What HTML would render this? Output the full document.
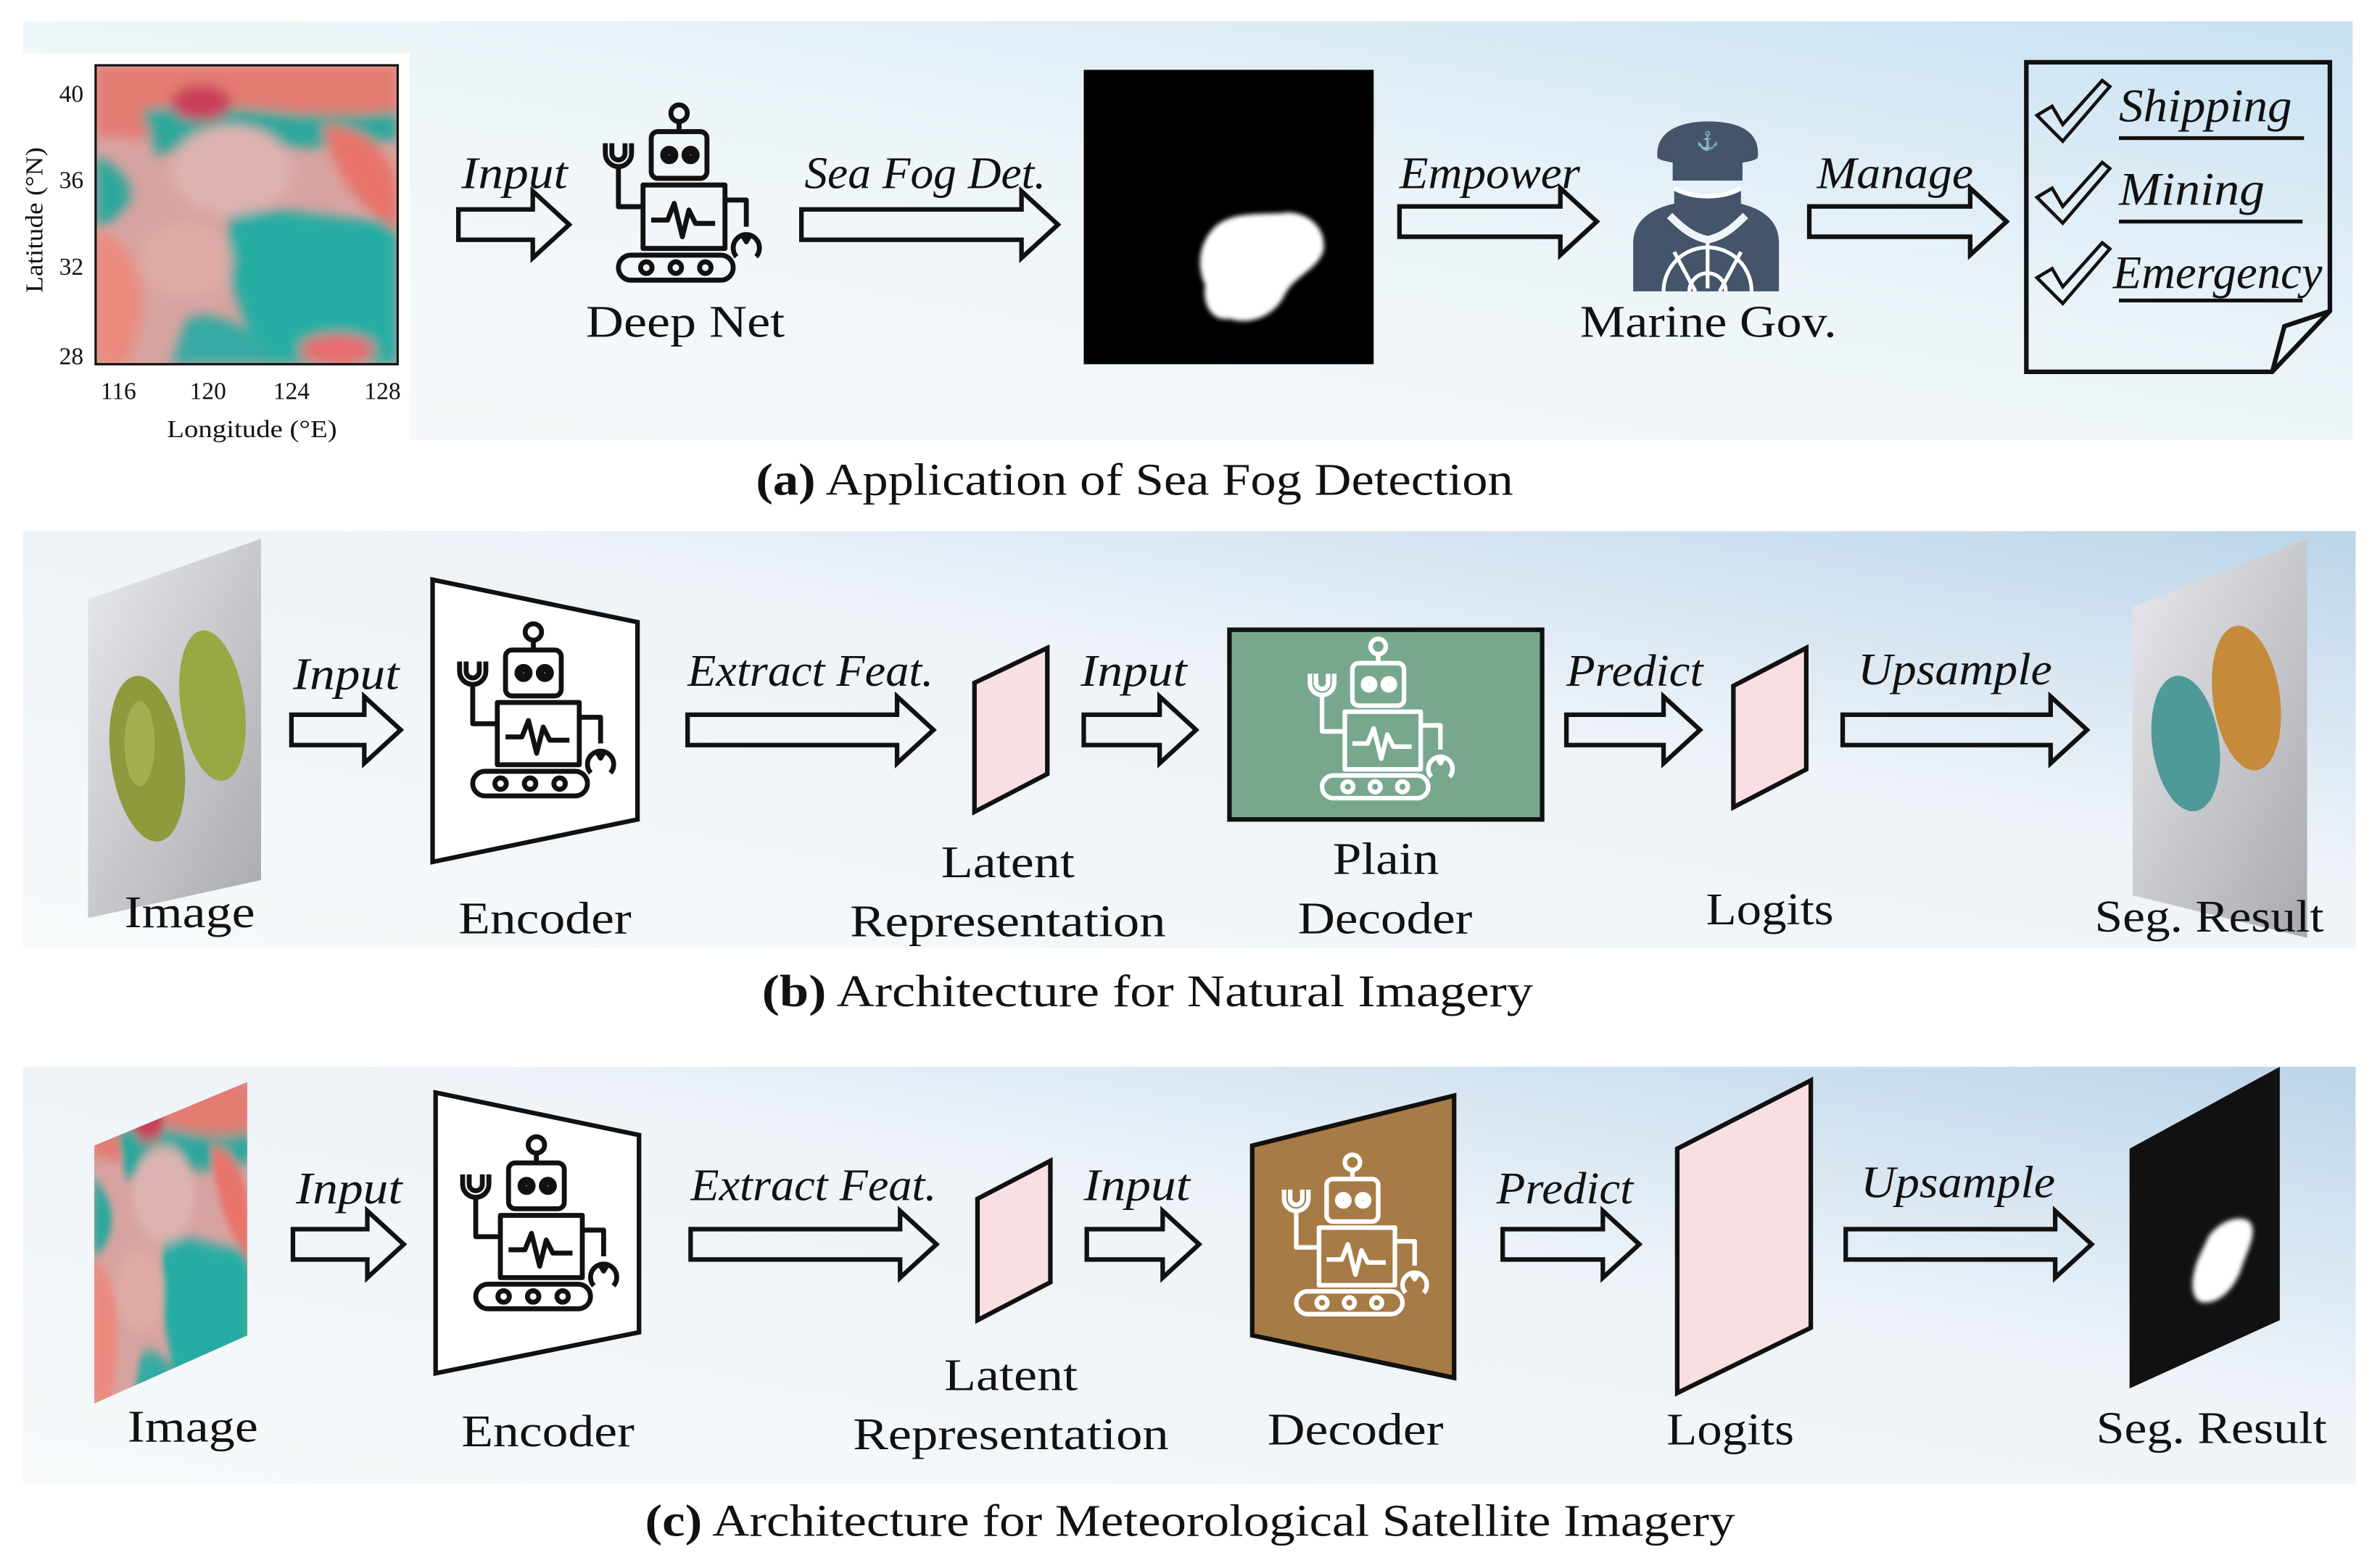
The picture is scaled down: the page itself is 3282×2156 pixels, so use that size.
<!DOCTYPE html>
<html><head><meta charset="utf-8"><style>
html,body{margin:0;padding:0;background:#fff;}
svg{display:block;}
text{font-family:"Liberation Serif",serif;fill:#111;}
.it{font-style:italic;}
</style></head><body>
<svg width="3282" height="2156" viewBox="0 0 1568 1030" xmlns="http://www.w3.org/2000/svg">
<defs>
<linearGradient id="bg" x1="0" y1="1" x2="1" y2="0">
<stop offset="0" stop-color="#f7fafb"/><stop offset="0.55" stop-color="#eef5f9"/><stop offset="1" stop-color="#c7e1f2"/>
</linearGradient>
<linearGradient id="bg2" x1="0" y1="1" x2="1" y2="0">
<stop offset="0" stop-color="#f7fafb"/><stop offset="0.6" stop-color="#edf3f8"/><stop offset="1" stop-color="#bcd5ea"/>
</linearGradient>
<linearGradient id="gray" x1="0" y1="0" x2="1" y2="1">
<stop offset="0" stop-color="#e8e9ec"/><stop offset="1" stop-color="#a9aab0"/>
</linearGradient>
<g id="robot" fill="none" stroke-width="3" stroke-linejoin="round">
<circle cx="55" cy="6" r="5"/><line x1="55" y1="11" x2="55" y2="17"/>
<rect x="38" y="17" width="34" height="28" rx="4"/>
<circle cx="49" cy="31" r="4"/><circle cx="62" cy="31" r="4"/>
<circle cx="49" cy="31" r="1.2"/><circle cx="62" cy="31" r="1.2"/>
<rect x="33" y="49" width="50" height="38"/>
<polyline points="38,70 48,70 52,60 57,80 61,64 65,72 77,72"/>
<polyline points="33,62 18,62 18,38"/>
<path d="M10,24 v6 a8,8 0 0 0 16,0 v-6 M14,24 v6 a4,4 0 0 0 8,0 v-6"/>
<polyline points="83,58 96,58 96,74"/>
<path d="M90,92 a8,8 0 1 1 12,0 M93,78 l3,5 l3,-5"/>
<rect x="18" y="91" width="70" height="15" rx="7.5"/>
<circle cx="35" cy="98.5" r="3.5"/><circle cx="53" cy="98.5" r="3.5"/><circle cx="71" cy="98.5" r="3.5"/>
</g>
<clipPath id="fogclip"><rect x="63" y="43" width="199" height="197"/></clipPath>
<filter id="blur4"><feGaussianBlur stdDeviation="4"/></filter>
<filter id="blur2"><feGaussianBlur stdDeviation="1.5"/></filter>
<g id="fog">
<rect x="0" y="0" width="200" height="200" fill="#d7a3a0"/>
<g filter="url(#blur4)">
<path d="M0,0 H200 V30 C150,50 100,10 60,40 C30,60 10,40 0,50Z" fill="#e47c72"/>
<path d="M30,30 C80,20 140,40 200,30 V50 C150,60 90,50 40,60Z" fill="#2ea79c"/>
<ellipse cx="70" cy="25" rx="20" ry="12" fill="#c9405a"/>
<path d="M0,60 C20,70 40,90 0,110Z" fill="#2ea79c"/>
<path d="M0,110 C30,120 40,160 20,200 H0Z" fill="#ec8a7e"/>
<path d="M90,100 C130,90 170,110 200,100 V200 H110 C100,170 80,140 90,100Z" fill="#27ada3"/>
<path d="M150,40 C180,40 200,60 200,90 V110 C180,100 160,80 150,40Z" fill="#e8736a"/>
<path d="M60,170 C80,160 110,180 120,200 H50Z" fill="#34aaa2"/>
<ellipse cx="160" cy="190" rx="25" ry="10" fill="#e86b6e"/>
<ellipse cx="90" cy="70" rx="40" ry="30" fill="#ddb2b0"/>
<ellipse cx="60" cy="130" rx="30" ry="25" fill="#e0aba6"/>
</g>
</g>
</defs>

<!-- Panel a -->
<rect x="15" y="14" width="1535" height="276" fill="url(#bg)"/>
<rect x="15" y="35" width="255" height="255" fill="#fff"/>
<g clip-path="url(#fogclip)"><use href="#fog" transform="translate(63,43) scale(0.995,0.985)"/></g>
<rect x="63" y="43" width="199" height="197" fill="none" stroke="#111" stroke-width="1.5"/>
<g font-size="16">
<text x="55" y="67" text-anchor="end">40</text>
<text x="55" y="124" text-anchor="end">36</text>
<text x="55" y="181" text-anchor="end">32</text>
<text x="55" y="240" text-anchor="end">28</text>
<text x="78" y="263" text-anchor="middle">116</text>
<text x="137" y="263" text-anchor="middle">120</text>
<text x="192" y="263" text-anchor="middle">124</text>
<text x="252" y="263" text-anchor="middle">128</text>
<text x="166" y="288" text-anchor="middle" textLength="112" lengthAdjust="spacingAndGlyphs">Longitude (°E)</text>
<text transform="translate(28,145) rotate(-90)" text-anchor="middle" textLength="96" lengthAdjust="spacingAndGlyphs">Latitude (°N)</text>
</g>
<g fill="none" stroke="#111" stroke-width="3" stroke-linejoin="miter">
<polygon points="302,138 351,138 351,126 375,148 351,170 351,158 302,158"/>
<polygon points="528,138 673,138 673,126 697,148 673,170 673,158 528,158"/>
<polygon points="922,136 1028,136 1028,124 1052,146 1028,168 1028,156 922,156"/>
<polygon points="1192,136 1298,136 1298,124 1322,146 1298,168 1298,156 1192,156"/>
</g>
<g font-size="30">
<text x="304" y="124" class="it" textLength="70" lengthAdjust="spacingAndGlyphs">Input</text>
<text x="530" y="124" class="it" textLength="159" lengthAdjust="spacingAndGlyphs">Sea Fog Det.</text>
<text x="922" y="124" class="it" textLength="119" lengthAdjust="spacingAndGlyphs">Empower</text>
<text x="1197" y="124" class="it" textLength="103" lengthAdjust="spacingAndGlyphs">Manage</text>
</g>
<use href="#robot" stroke="#111" transform="translate(388,68) scale(1.08,1.1)"/>
<text x="386" y="222" font-size="30" textLength="131" lengthAdjust="spacingAndGlyphs">Deep Net</text>
<rect x="714" y="46" width="191" height="194" fill="#000"/>
<path d="M800,150 C812,138 835,142 848,140 C862,140 874,150 872,165 C868,178 852,182 846,195 C838,210 822,214 810,210 C798,212 792,200 794,188 C788,175 790,160 800,150Z" fill="#fff" filter="url(#blur2)"/>
<!-- officer -->
<g fill="#44546a">
<path d="M1092,104 C1090,86 1108,80 1125,80 C1145,80 1160,86 1158,104 C1152,110 1098,110 1092,104Z"/>
<rect x="1102" y="104" width="46" height="15"/>
<path d="M1103,124 C1115,131 1135,131 1147,124 V140 C1147,158 1136,168 1125,168 C1114,168 1103,158 1103,140Z"/>
<path d="M1076,192 V160 C1076,140 1098,132 1125,132 C1152,132 1172,140 1172,160 V192Z" fill="#44546a"/>
</g>
<path d="M1103,124 C1115,131 1135,131 1147,124" stroke="#fff" stroke-width="3" fill="none"/>
<path d="M1100,142 C1108,150 1115,156 1125,158 C1135,156 1142,150 1150,142" stroke="#eef4f8" stroke-width="5" fill="none"/>
<g stroke="#fff" stroke-width="2.5" fill="none">
<path d="M1096,192 A29,29 0 0 1 1154,192"/>
<path d="M1113,192 A12,12 0 0 1 1137,192"/>
<line x1="1125" y1="160" x2="1125" y2="190"/>
<line x1="1103" y1="166" x2="1117" y2="192"/>
<line x1="1147" y1="166" x2="1133" y2="192"/>
</g>
<text x="1125" y="97" font-size="12" text-anchor="middle" style="fill:#fff">⚓</text>
<text x="1041" y="222" font-size="30" textLength="169" lengthAdjust="spacingAndGlyphs">Marine Gov.</text>
<!-- checklist -->
<path d="M1335,41 H1535 V205 L1497,245 H1335Z" fill="none" stroke="#111" stroke-width="3"/>
<path d="M1497,245 L1505,215 L1535,205" fill="none" stroke="#111" stroke-width="3"/>
<g fill="none" stroke="#111" stroke-width="2.2" stroke-linejoin="miter">
<path d="M1342,76 L1352,70 L1359,82 L1385,53 L1390,57 L1359,93Z"/>
<path d="M1342,130 L1352,124 L1359,136 L1385,107 L1390,111 L1359,147Z"/>
<path d="M1342,183 L1352,177 L1359,189 L1385,160 L1390,164 L1359,200Z"/>
</g>
<g stroke="#111" stroke-width="2.5">
<line x1="1396" y1="91" x2="1518" y2="91"/>
<line x1="1396" y1="146" x2="1517" y2="146"/>
<line x1="1396" y1="198" x2="1517" y2="198"/>
</g>
<g font-size="31">
<text x="1396" y="80" class="it" textLength="114" lengthAdjust="spacingAndGlyphs">Shipping</text>
<text x="1396" y="135" class="it" textLength="96" lengthAdjust="spacingAndGlyphs">Mining</text>
<text x="1392" y="190" class="it" textLength="138" lengthAdjust="spacingAndGlyphs">Emergency</text>
</g>
<text x="498" y="326" font-size="30" textLength="499" lengthAdjust="spacingAndGlyphs"><tspan font-weight="bold">(a)</tspan> Application of Sea Fog Detection</text>

<!-- Panel b -->
<rect x="15" y="350" width="1537" height="275" fill="url(#bg2)"/>
<polygon points="58,395 172,355 172,580 58,605" fill="url(#gray)"/>
<ellipse cx="97" cy="500" rx="24" ry="55" fill="#8e9a3c" transform="rotate(-8 97 500)"/>
<ellipse cx="140" cy="465" rx="21" ry="50" fill="#98a843" transform="rotate(-8 140 465)"/>
<ellipse cx="92" cy="490" rx="10" ry="28" fill="#b1bd5e" opacity="0.6"/>
<polygon points="1405,400 1520,355 1520,618 1405,590" fill="url(#gray)"/>
<ellipse cx="1440" cy="490" rx="22" ry="45" fill="#4f9a98" transform="rotate(-8 1440 490)"/>
<ellipse cx="1480" cy="460" rx="22" ry="48" fill="#c58a3a" transform="rotate(-8 1480 460)"/>
<g fill="none" stroke="#111" stroke-width="3">
<polygon points="192,471 240,471 240,459 264,481 240,503 240,491 192,491"/>
<polygon points="453,471 591,471 591,459 615,481 591,503 591,491 453,491"/>
<polygon points="714,471 764,471 764,459 788,481 764,503 764,491 714,491"/>
<polygon points="1032,471 1096,471 1096,459 1120,481 1096,503 1096,491 1032,491"/>
<polygon points="1214,471 1351,471 1351,459 1375,481 1351,503 1351,491 1214,491"/>
</g>
<polygon points="285,382 420,410 420,540 285,568" fill="#fff" stroke="#111" stroke-width="3"/>
<use href="#robot" stroke="#111" transform="translate(292,410) scale(1.08,1.08)"/>
<polygon points="642,450 690,427 690,510 642,535" fill="#f9dfe2" stroke="#111" stroke-width="3"/>
<rect x="810" y="415" width="206" height="125" fill="#77a88e" stroke="#111" stroke-width="3"/>
<use href="#robot" stroke="#fff" transform="translate(853,420) scale(1.0,1.0)"/>
<polygon points="1142,452 1190,427 1190,507 1142,532" fill="#f9dfe2" stroke="#111" stroke-width="3"/>
<g font-size="30">
<text x="193" y="454" class="it" textLength="70" lengthAdjust="spacingAndGlyphs">Input</text>
<text x="453" y="452" class="it" textLength="162" lengthAdjust="spacingAndGlyphs">Extract Feat.</text>
<text x="712" y="452" class="it" textLength="70" lengthAdjust="spacingAndGlyphs">Input</text>
<text x="1032" y="452" class="it" textLength="90" lengthAdjust="spacingAndGlyphs">Predict</text>
<text x="1224" y="451" class="it" textLength="128" lengthAdjust="spacingAndGlyphs">Upsample</text>
</g>
<g font-size="30">
<text x="82" y="611" textLength="86" lengthAdjust="spacingAndGlyphs">Image</text>
<text x="302" y="615" textLength="114" lengthAdjust="spacingAndGlyphs">Encoder</text>
<text x="620" y="578" textLength="88" lengthAdjust="spacingAndGlyphs">Latent</text>
<text x="560" y="617" textLength="208" lengthAdjust="spacingAndGlyphs">Representation</text>
<text x="878" y="576" textLength="70" lengthAdjust="spacingAndGlyphs">Plain</text>
<text x="855" y="615" textLength="115" lengthAdjust="spacingAndGlyphs">Decoder</text>
<text x="1124" y="609" textLength="84" lengthAdjust="spacingAndGlyphs">Logits</text>
<text x="1380" y="614" textLength="151" lengthAdjust="spacingAndGlyphs">Seg. Result</text>
</g>
<text x="502" y="663" font-size="30" textLength="508" lengthAdjust="spacingAndGlyphs"><tspan font-weight="bold">(b)</tspan> Architecture for Natural Imagery</text>

<!-- Panel c -->
<rect x="15" y="703" width="1537" height="275" fill="url(#bg2)"/>
<clipPath id="cimg"><polygon points="62,755 163,713 163,880 62,925"/></clipPath>
<g clip-path="url(#cimg)"><use href="#fog" transform="translate(62,713) scale(0.51,1.06)"/></g>
<g fill="none" stroke="#111" stroke-width="3">
<polygon points="193,810 242,810 242,798 266,820 242,842 242,830 193,830"/>
<polygon points="455,810 593,810 593,798 617,820 593,842 593,830 455,830"/>
<polygon points="716,810 766,810 766,798 790,820 766,842 766,830 716,830"/>
<polygon points="990,810 1056,810 1056,798 1080,820 1056,842 1056,830 990,830"/>
<polygon points="1216,810 1354,810 1354,798 1378,820 1354,842 1354,830 1216,830"/>
</g>
<polygon points="287,720 421,748 421,878 287,905" fill="#fff" stroke="#111" stroke-width="3"/>
<use href="#robot" stroke="#111" transform="translate(294,748) scale(1.08,1.08)"/>
<polygon points="644,790 692,765 692,845 644,870" fill="#f9dfe2" stroke="#111" stroke-width="3"/>
<polygon points="825,755 958,722 958,908 825,880" fill="#a77b45" stroke="#111" stroke-width="3"/>
<use href="#robot" stroke="#fff" transform="translate(836,760) scale(1.0,1.0)"/>
<polygon points="1105,757 1193,712 1193,875 1105,918" fill="#f9dfe2" stroke="#111" stroke-width="3"/>
<polygon points="1403,757 1502,703 1502,870 1403,915" fill="#111"/>
<path d="M1455,815 C1462,805 1475,800 1482,805 C1488,812 1480,825 1476,838 C1470,852 1460,860 1450,858 C1442,855 1444,840 1448,830Z" fill="#fff" filter="url(#blur2)"/>
<g font-size="30">
<text x="195" y="793" class="it" textLength="70" lengthAdjust="spacingAndGlyphs">Input</text>
<text x="455" y="791" class="it" textLength="162" lengthAdjust="spacingAndGlyphs">Extract Feat.</text>
<text x="714" y="791" class="it" textLength="70" lengthAdjust="spacingAndGlyphs">Input</text>
<text x="986" y="793" class="it" textLength="90" lengthAdjust="spacingAndGlyphs">Predict</text>
<text x="1226" y="789" class="it" textLength="128" lengthAdjust="spacingAndGlyphs">Upsample</text>
</g>
<g font-size="30">
<text x="84" y="950" textLength="86" lengthAdjust="spacingAndGlyphs">Image</text>
<text x="304" y="953" textLength="114" lengthAdjust="spacingAndGlyphs">Encoder</text>
<text x="622" y="916" textLength="88" lengthAdjust="spacingAndGlyphs">Latent</text>
<text x="562" y="955" textLength="208" lengthAdjust="spacingAndGlyphs">Representation</text>
<text x="835" y="952" textLength="116" lengthAdjust="spacingAndGlyphs">Decoder</text>
<text x="1098" y="952" textLength="84" lengthAdjust="spacingAndGlyphs">Logits</text>
<text x="1381" y="951" textLength="152" lengthAdjust="spacingAndGlyphs">Seg. Result</text>
</g>
<text x="425" y="1012" font-size="30" textLength="718" lengthAdjust="spacingAndGlyphs"><tspan font-weight="bold">(c)</tspan> Architecture for Meteorological Satellite Imagery</text>
</svg>
</body></html>
